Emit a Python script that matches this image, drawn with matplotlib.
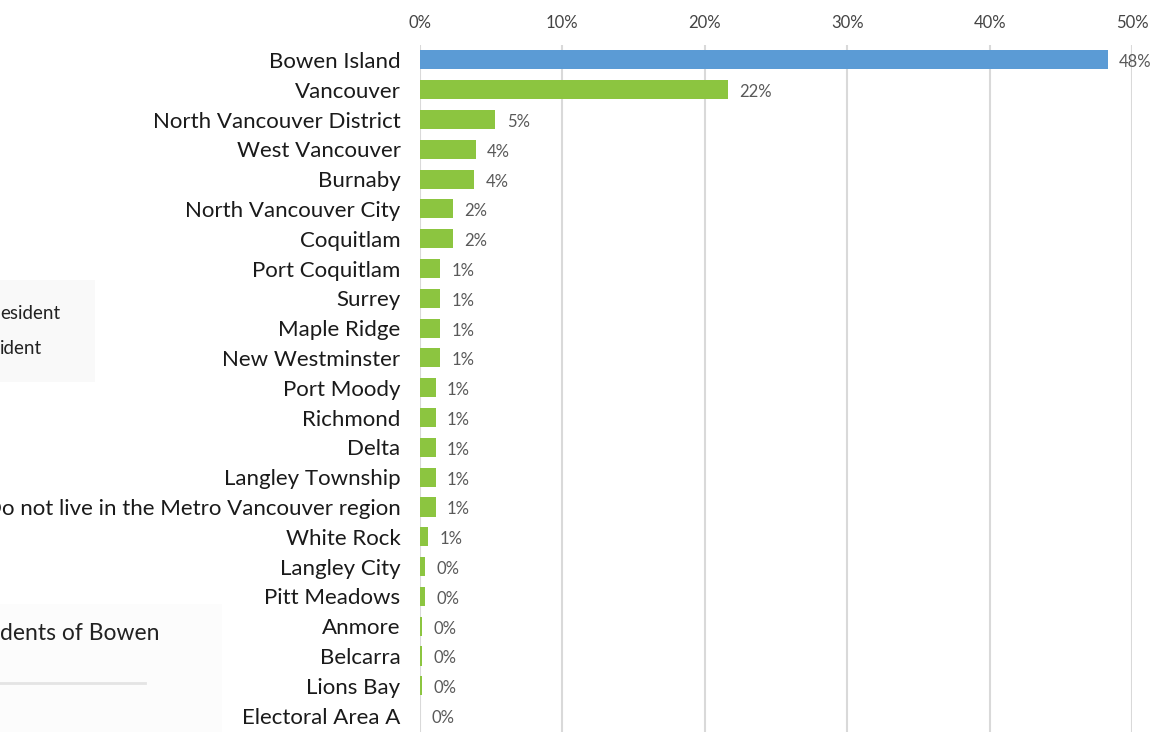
import matplotlib.pyplot as plt
import matplotlib.patches as patches

plt.rcParams['font.family'] = ['Lato', 'DejaVu Sans']

places = ['Bowen Island', 'Vancouver', 'North Vancouver District', 'West Vancouver',
          'Burnaby', 'North Vancouver City', 'Coquitlam', 'Port Coquitlam', 'Surrey',
          'Maple Ridge', 'New Westminster', 'Port Moody', 'Richmond', 'Delta',
          'Langley Township', 'Do not live in the Metro Vancouver region', 'White Rock',
          'Langley City', 'Pitt Meadows', 'Anmore', 'Belcarra', 'Lions Bay',
          'Electoral Area A']
shares = [48.3, 21.6, 5.3, 3.9, 3.8, 2.3, 2.3, 1.4, 1.4, 1.4, 1.4, 1.1, 1.1, 1.1,
          1.1, 1.1, 0.55, 0.35, 0.35, 0.15, 0.15, 0.15, 0.0]
ticks = [0, 10, 20, 30, 40, 50]

blue = '#5b9bd5'
green = '#8cc540'


def main():
    fig = plt.figure(figsize=(11.72, 7.32), dpi=100)
    fig.patch.set_facecolor('white')

    # edges of the neighbouring legend / title panel on the left
    fig.patches.append(patches.Rectangle((0, 1 - 382 / 732), 95 / 1172, 102 / 732,
                                         transform=fig.transFigure, facecolor='#f9f9f9',
                                         edgecolor='none', zorder=0))
    fig.patches.append(patches.Rectangle((0, 0), 222 / 1172, 128 / 732,
                                         transform=fig.transFigure, facecolor='#fcfcfc',
                                         edgecolor='none', zorder=0))
    fig.text(0, 1 - 314 / 732, 'esident', fontsize=13.5, color='#222222',
             va='center', ha='left')
    fig.text(0, 1 - 349 / 732, 'ident', fontsize=13.5, color='#222222',
             va='center', ha='left')
    fig.text(0, 1 - 634 / 732, 'dents of Bowen', fontsize=16.5,
             color='#222222', va='center', ha='left')
    fig.lines.append(plt.Line2D([0, 145 / 1172], [1 - 683 / 732, 1 - 683 / 732],
                                transform=fig.transFigure, color='#e4e4e4', lw=2))

    ax = fig.add_axes([420 / 1172, 0, 712 / 1172, 1 - 45 / 732])
    ax.patch.set_alpha(0)

    y = list(range(len(places)))
    colors = [blue] + [green] * (len(places) - 1)
    ax.barh(y, shares, height=0.64, color=colors, zorder=3)

    for yi, v in zip(y, shares):
        ax.text(v + 0.8, yi + 0.08, '{:.0f}%'.format(v + 1e-9), fontsize=12,
                color='#595959', va='center', ha='left', zorder=4)

    ax.set_xlim(0, 50)
    ax.set_ylim(len(places) - 0.45, -0.5)
    ax.xaxis.tick_top()
    ax.set_xticks(ticks)
    ax.set_xticklabels(['{}%'.format(t) for t in ticks], fontsize=12, color='#444444')
    ax.tick_params(axis='x', length=0, pad=10)
    ax.set_yticks(y)
    ax.set_yticklabels(places, fontsize=16, color='#1a1a1a')
    ax.tick_params(axis='y', length=0, pad=14)
    ax.grid(axis='x', color='#d9d9d9', lw=1.5, zorder=0)
    for s in ax.spines.values():
        s.set_visible(False)

    fig.savefig('out.png', dpi=100)


if __name__ == '__main__':
    main()
